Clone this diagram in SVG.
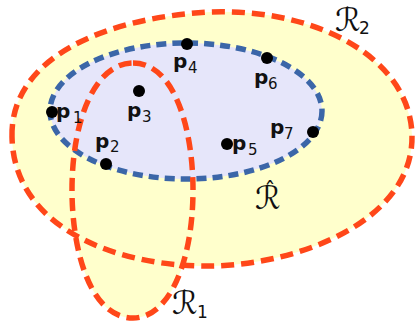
<svg xmlns="http://www.w3.org/2000/svg" width="415" height="321" viewBox="0 0 415 321">
<style>
.fillY{fill:#FFFFCC;stroke:none}
.fillL{fill:#E6E6FA;stroke:none}
.red{fill:none;stroke:#FF4719;stroke-width:5.5;stroke-dasharray:13 7}
.blue{fill:none;stroke:#3B66A8;stroke-width:5.5;stroke-dasharray:10 6}
.dot{fill:#000}
.p{font-family:"DejaVu Sans",sans-serif;font-weight:bold;font-size:20px;fill:#111}
.sub{font-family:"DejaVu Sans",sans-serif;font-size:15px;fill:#111}
.r{font-family:"DejaVu Sans",serif;font-size:32px;fill:#111}
.rs{font-family:"DejaVu Sans",sans-serif;font-size:17px;fill:#111}
</style>
<defs>
<path id="r2path" d="M12,137 C10,60 100,18 210,12 C320,8 410,60 412,135 C414,220 300,265 210,266 C120,267 14,230 12,137 Z"/>
<path id="r1path" d="M133,63 C175,63 193,130 193,190 C193,260 170,318 133,318 C90,318 72,250 72,190 C72,120 95,63 133,63 Z"/>
<ellipse id="rhpath" cx="186" cy="111" rx="136" ry="68"/>
</defs>
<g id="fills">
<use href="#r2path" class="fillY"/>
<use href="#r1path" class="fillY"/>
<use href="#rhpath" class="fillL"/>
</g>
<g id="Rhat">
<use href="#rhpath" class="blue"/>
<text class="r" x="255" y="209">ℛ<tspan dx="-16" dy="-12" font-size="22">ˆ</tspan></text>
</g>
<g id="R2">
<use href="#r2path" class="red"/>
<text class="r" x="335" y="31">ℛ</text>
<text class="rs" x="359" y="34">2</text>
</g>
<g id="R1">
<use href="#r1path" class="red"/>
<text class="r" x="172" y="314">ℛ</text>
<text class="rs" x="197" y="318">1</text>
</g>
<g id="points">
<g id="p1"><circle class="dot" cx="52" cy="112" r="6"/><text class="p" x="56" y="118">p</text><text class="sub" x="73" y="123">1</text></g>
<g id="p2"><circle class="dot" cx="106" cy="164" r="6"/><text class="p" x="95" y="148">p</text><text class="sub" x="110" y="152">2</text></g>
<g id="p3"><circle class="dot" cx="139" cy="91" r="6"/><text class="p" x="127" y="117">p</text><text class="sub" x="142" y="122">3</text></g>
<g id="p4"><circle class="dot" cx="187" cy="44" r="6"/><text class="p" x="173" y="68">p</text><text class="sub" x="188" y="73">4</text></g>
<g id="p5"><circle class="dot" cx="227" cy="144" r="6"/><text class="p" x="232" y="150">p</text><text class="sub" x="248" y="155">5</text></g>
<g id="p6"><circle class="dot" cx="267" cy="58" r="6"/><text class="p" x="254" y="84">p</text><text class="sub" x="268" y="89">6</text></g>
<g id="p7"><circle class="dot" cx="313" cy="132" r="6"/><text class="p" x="270" y="134">p</text><text class="sub" x="284" y="139">7</text></g>
</g>
</svg>
